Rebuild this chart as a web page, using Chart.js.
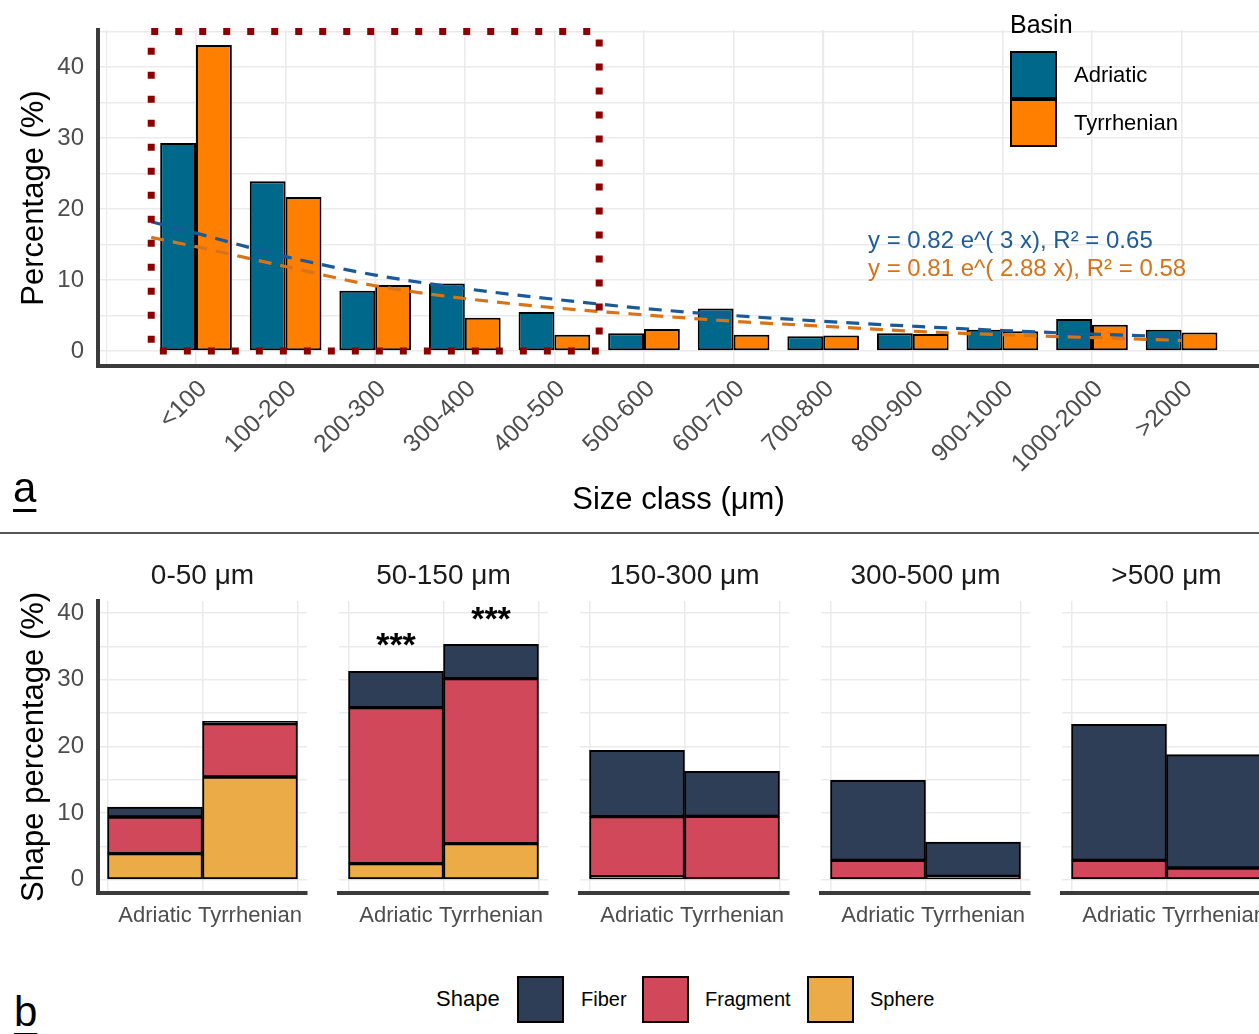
<!DOCTYPE html>
<html>
<head>
<meta charset="utf-8">
<script src="https://cdn.jsdelivr.net/npm/chart.js@4.4.1/dist/chart.umd.min.js"></script>
<style>
  html, body { margin: 0; padding: 0; width: 1259px; height: 1034px; overflow: hidden; background: #fff;
    font-family: "Liberation Sans", Arial, sans-serif; }
  canvas { position: absolute; }
  .txt { position: absolute; white-space: nowrap; color: #000; }
  .key { position: absolute; box-sizing: border-box; border: 2px solid #000; }
  #sep { position: absolute; left: 0; top: 532px; width: 1259px; height: 2px; background: #555; }
  .tag { position: absolute; font-size: 42px; line-height: 42px; text-decoration: underline;
    text-decoration-thickness: 3px; text-underline-offset: 7px; }
</style>
</head>
<body>
<canvas id="sizeChart" width="1259" height="533" style="left:0;top:0"></canvas>
<div id="sep"></div>
<div class="tag" style="left:13px;top:467px">a</div>
<div class="tag" style="left:14px;top:991px">b</div>

<div class="txt" style="left:1010px;top:9px;font-size:25px;line-height:30px">Basin</div>
<div class="key" style="left:1010px;top:51px;width:47px;height:48px;background:#00688B"></div>
<div class="key" style="left:1010px;top:99px;width:47px;height:48px;background:#FF7F00"></div>
<div class="txt" style="left:1074px;top:62px;font-size:22px;line-height:26px">Adriatic</div>
<div class="txt" style="left:1074px;top:110px;font-size:22px;line-height:26px">Tyrrhenian</div>

<div class="txt" style="left:436px;top:986px;font-size:22px;line-height:26px">Shape</div>
<div class="key" style="left:517px;top:976px;width:47px;height:47px;background:#2E3E56"></div>
<div class="txt" style="left:581px;top:987px;font-size:20px;line-height:24px">Fiber</div>
<div class="key" style="left:642px;top:976px;width:47px;height:47px;background:#D1485B"></div>
<div class="txt" style="left:705px;top:987px;font-size:20px;line-height:24px">Fragment</div>
<div class="key" style="left:807px;top:976px;width:47px;height:47px;background:#EBAC47"></div>
<div class="txt" style="left:870px;top:987px;font-size:20px;line-height:24px">Sphere</div>

<script>
// panel a data
const CATEGORIES = ['<100', '100-200', '200-300', '300-400', '400-500', '500-600',
  '600-700', '700-800', '800-900', '900-1000', '1000-2000', '>2000'];
const ADRIATIC = [29.3, 23.9, 8.5, 9.5, 5.5, 2.5, 6.0, 2.1, 2.5, 3.0, 4.5, 3.0];
const TYRRHENIAN = [43.1, 21.7, 9.3, 4.7, 2.3, 3.1, 2.3, 2.2, 2.4, 2.8, 3.7, 2.6];

// fitted exponential curves
const TREND_X = [0.5, 1, 2, 3, 4, 5, 6, 7, 8, 9, 10, 11, 12];
const TREND_ADR = [18.2, 16.6, 13.3, 10.7, 8.8, 7.3, 6.0, 5.0, 4.2, 3.5, 2.9, 2.4, 2.0];
const TREND_TYR = [16.0, 14.7, 11.9, 9.2, 7.4, 6.1, 5.1, 4.2, 3.5, 2.8, 2.3, 1.9, 1.5];

const EQUATIONS = [
  { text: 'y = 0.82 e^( 3 x), R² = 0.65', color: '#1c5c9b', x: 8.5, y: 15.5 },
  { text: 'y = 0.81 e^( 2.88 x), R² = 0.58', color: '#d5731b', x: 8.5, y: 11.5 }
];
const Y_TICKS_A = [0, 5, 10, 15, 20, 25, 30, 35, 40, 45];

// panel b data
const FACETS = ['0-50 μm', '50-150 μm', '150-300 μm', '300-500 μm', '>500 μm'];
const BASINS = ['Adriatic', 'Tyrrhenian'];
const SPHERE_ADR = [3.9, 2.4, 0.45, 0, 0];
const SPHERE_TYR = [15.4, 5.4, 0.1, 0, 0];
const FRAGMENT_ADR = [5.5, 23.4, 9.0, 2.9, 2.9];
const FRAGMENT_TYR = [8.0, 24.75, 9.4, 0.5, 1.75];
const FIBER_ADR = [1.5, 5.45, 9.95, 12.0, 20.4];
const FIBER_TYR = [0.35, 5.15, 6.75, 5.15, 17.0];
const STARS = [
  { facet: '50-150 μm', basin: 'Adriatic', y: 36.1 },
  { facet: '50-150 μm', basin: 'Tyrrhenian', y: 40.0 }
];
const Y_TICKS_B = [0, 5, 10, 15, 20, 25, 30, 35, 40];

Chart.defaults.font.family = '"Liberation Sans", Arial, sans-serif';
Chart.defaults.color = '#4d4d4d';

const GRID = '#ebebeb';
const AXIS = '#3b3b3b';
const X_MIN = -0.094, X_MAX = 12.864;

// dotted box + equations on panel a
const boxPlugin = {
  id: 'box',
  afterDatasetsDraw(chart) {
    const { ctx, scales: { x, y } } = chart;
    ctx.save();
    ctx.strokeStyle = '#8b0000';
    ctx.lineWidth = 7;
    ctx.setLineDash([7, 17]);
    const x0 = x.getPixelForValue(0.5), x1 = x.getPixelForValue(5.5);
    const y0 = y.getPixelForValue(45), y1 = y.getPixelForValue(0);
    ctx.strokeRect(x0, y0, x1 - x0, y1 - y0);
    ctx.setLineDash([]);
    ctx.font = '24px "Liberation Sans", Arial, sans-serif';
    ctx.textAlign = 'left';
    ctx.textBaseline = 'middle';
    EQUATIONS.forEach(e => {
      ctx.fillStyle = e.color;
      ctx.fillText(e.text, x.getPixelForValue(e.x), y.getPixelForValue(e.y));
    });
    ctx.restore();
  }
};

new Chart(document.getElementById('sizeChart'), {
  type: 'bar',
  data: {
    datasets: [
      {
        type: 'line', label: 'Adriatic fit', order: 0,
        data: TREND_X.map((v, i) => ({ x: v, y: TREND_ADR[i] })),
        borderColor: '#1a5a98', borderWidth: 3.2, borderDash: [13, 9],
        pointRadius: 0, fill: false, cubicInterpolationMode: 'monotone'
      },
      {
        type: 'line', label: 'Tyrrhenian fit', order: 0,
        data: TREND_X.map((v, i) => ({ x: v, y: TREND_TYR[i] })),
        borderColor: '#d9731a', borderWidth: 3.2, borderDash: [13, 9],
        pointRadius: 0, fill: false, cubicInterpolationMode: 'monotone'
      },
      {
        label: 'Adriatic', order: 1,
        data: ADRIATIC.map((v, i) => ({ x: i + 1, y: v })),
        backgroundColor: '#00688B'
      },
      {
        label: 'Tyrrhenian', order: 1,
        data: TYRRHENIAN.map((v, i) => ({ x: i + 1, y: v })),
        backgroundColor: '#FF7F00'
      }
    ]
  },
  options: {
    responsive: false,
    animation: false,
    layout: { padding: { top: 30, left: 0, right: 0, bottom: 0 } },
    datasets: {
      bar: { barPercentage: 1, categoryPercentage: 0.8, borderColor: '#000', borderWidth: 2, borderSkipped: false }
    },
    plugins: { legend: { display: false }, tooltip: { enabled: false } },
    scales: {
      x: {
        type: 'linear', min: X_MIN, max: X_MAX, offset: false,
        afterBuildTicks: s => { s.ticks = CATEGORIES.map((c, i) => ({ value: i + 1 })); },
        ticks: {
          autoSkip: false, minRotation: 45, maxRotation: 45, padding: 3.5, labelOffset: 7,
          font: { size: 24.5, lineHeight: 1.8 }, color: '#4d4d4d',
          callback: v => CATEGORIES[Math.round(v) - 1]
        },
        grid: { color: GRID, lineWidth: 1.5, drawTicks: false, offset: false },
        border: { color: AXIS, width: 4 },
        title: { display: true, text: 'Size class (μm)', color: '#000', font: { size: 31 }, padding: { top: 0, bottom: 14 } },
        afterFit: s => { s.height = 167; s.paddingLeft = 0; s.paddingRight = 0; }
      },
      x2: {
        type: 'linear', position: 'top', min: X_MIN, max: X_MAX, offset: false,
        afterBuildTicks: s => { s.ticks = CATEGORIES.map((c, i) => ({ value: i + 0.5 })).concat([{ value: 12.5 }]); },
        ticks: { display: false },
        grid: { color: GRID, lineWidth: 1.2, drawTicks: false },
        border: { display: false },
        afterFit: s => { s.height = 0; s.paddingLeft = 0; s.paddingRight = 0; }
      },
      y: {
        min: -2.1, max: 45.2,
        afterBuildTicks: s => { s.ticks = Y_TICKS_A.map(v => ({ value: v })); },
        ticks: { padding: 14, font: { size: 24 }, color: '#4d4d4d', callback: v => (v % 10 === 0 ? v : '') },
        grid: { color: GRID, lineWidth: 1.5, drawTicks: false },
        border: { color: AXIS, width: 4 },
        title: { display: true, text: 'Percentage (%)', color: '#000', font: { size: 31 }, padding: { top: 16, bottom: 0 } },
        afterFit: s => { s.width = 98; s.paddingTop = 0; s.paddingBottom = 0; }
      }
    }
  },
  plugins: [boxPlugin]
});

// significance stars on panel b
const starPlugin = {
  id: 'stars',
  afterDatasetsDraw(chart, args, opts) {
    const { ctx, scales: { x, y } } = chart;
    ctx.save();
    ctx.font = 'bold 34px "Liberation Sans", Arial, sans-serif';
    ctx.fillStyle = '#000';
    ctx.textAlign = 'center';
    ctx.textBaseline = 'alphabetic';
    STARS.filter(s => s.facet === opts.facet).forEach(s => {
      const m = ctx.measureText('***');
      const cy = y.getPixelForValue(s.y);
      const base = cy + (m.actualBoundingBoxAscent - m.actualBoundingBoxDescent) / 2;
      ctx.fillText('***', x.getPixelForValue(BASINS.indexOf(s.basin) + 1), base);
    });
    ctx.restore();
  }
};

FACETS.forEach((name, k) => {
  const first = k === 0;
  const canvas = document.createElement('canvas');
  canvas.width = first ? 327 : 249;
  canvas.height = 420;
  canvas.style.left = (first ? 0 : 78 + 241 * k) + 'px';
  canvas.style.top = '533px';
  document.body.insertBefore(canvas, document.getElementById('sep'));

  const pair = (a, t) => [{ x: 1, y: a[k] }, { x: 2, y: t[k] }];

  new Chart(canvas, {
    type: 'bar',
    data: {
      datasets: [
        { label: 'Sphere', data: pair(SPHERE_ADR, SPHERE_TYR), backgroundColor: '#EBAC47' },
        { label: 'Fragment', data: pair(FRAGMENT_ADR, FRAGMENT_TYR), backgroundColor: '#D1485B' },
        { label: 'Fiber', data: pair(FIBER_ADR, FIBER_TYR), backgroundColor: '#2E3E56' }
      ]
    },
    options: {
      responsive: false,
      animation: false,
      layout: { padding: { top: 0, bottom: 0, left: first ? 0 : 20, right: 20 } },
      datasets: {
        bar: { barPercentage: 1, categoryPercentage: 1, borderColor: '#000', borderWidth: 2, borderSkipped: false }
      },
      plugins: {
        legend: { display: false },
        tooltip: { enabled: false },
        title: {
          display: true, text: name, fullSize: false, color: '#1a1a1a',
          font: { size: 28, weight: 'normal' }, padding: { top: 26, bottom: 8.4 }
        },
        stars: { facet: name }
      },
      scales: {
        x: {
          type: 'linear', min: 0.4, max: 2.6, offset: false, stacked: true,
          afterBuildTicks: s => { s.ticks = BASINS.map((b, i) => ({ value: i + 1 })); },
          ticks: { autoSkip: false, maxRotation: 0, padding: 10, font: { size: 22 }, color: '#4d4d4d',
            callback: v => BASINS[Math.round(v) - 1] },
          grid: { color: GRID, lineWidth: 1.5, drawTicks: false },
          border: { color: AXIS, width: 4 },
          afterFit: s => { s.height = 60; s.paddingLeft = 0; s.paddingRight = 0; }
        },
        y: {
          stacked: true, min: -2.0, max: 41.8,
          afterBuildTicks: s => { s.ticks = Y_TICKS_B.map(v => ({ value: v })); },
          ticks: { display: first, padding: 14, font: { size: 24 }, color: '#4d4d4d',
            callback: v => (v % 10 === 0 ? v : '') },
          grid: { color: GRID, lineWidth: 1.5, drawTicks: false },
          border: { display: first, color: AXIS, width: 4 },
          title: { display: first, text: 'Shape percentage (%)', color: '#000', font: { size: 31 }, padding: { top: 16, bottom: 0 } },
          afterFit: s => { s.width = first ? 98 : 0; s.paddingTop = 0; s.paddingBottom = 0; }
        }
      }
    },
    plugins: [starPlugin]
  });
});
</script>
</body>
</html>
